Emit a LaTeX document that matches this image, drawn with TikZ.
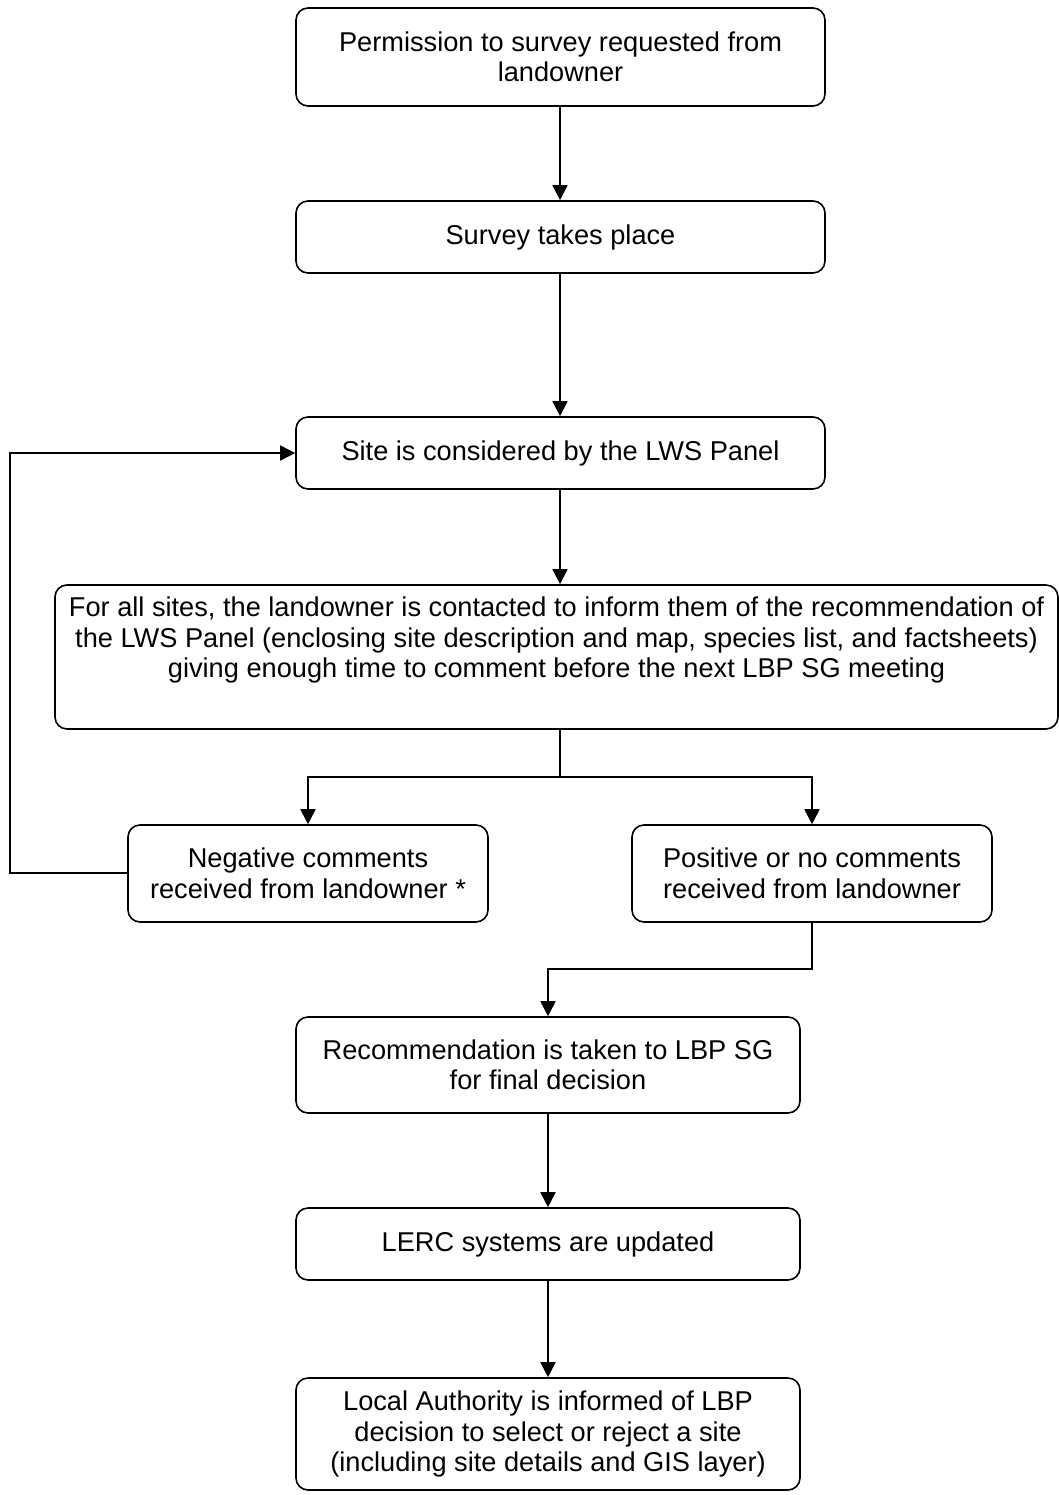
\documentclass[tikz,border=0pt]{standalone}
\usepackage{fontspec}
\setmainfont{Liberation Sans}
\usetikzlibrary{arrows.meta}
\begin{document}
\begin{tikzpicture}[x=1pt,y=-1pt,
  box/.style={draw=black, line width=1.6pt, rounded corners=12pt, align=center,
    inner sep=0pt, font=\fontsize{27.2}{30.5}\selectfont},
  conn/.style={draw=black, line width=1.6pt},
  arr/.style={conn, -{Triangle[length=15pt,width=15pt]}}]
\fill[white] (0,0) rectangle (1059,1495);
\useasboundingbox (0,0) rectangle (1059,1495);

\node[box, minimum width=529pt, minimum height=98pt] (b1) at (560.5,57)
  {Permission to survey requested from\\landowner};
\node[box, minimum width=529pt, minimum height=72pt] (b2) at (560.5,237)
  {Survey takes place};
\node[box, minimum width=529pt, minimum height=72pt] (b3) at (560.5,453)
  {Site is considered by the LWS Panel};
\node[box, minimum width=1003pt, minimum height=144pt] (b4) at (556.5,657)
  {For all sites, the landowner is contacted to inform them of the recommendation of\\
   the LWS Panel (enclosing site description and map, species list, and factsheets)\\
   giving enough time to comment before the next LBP SG meeting\\\strut};
\node[box, minimum width=360pt, minimum height=97pt] (neg) at (308,873.5)
  {Negative comments\\received from landowner *};
\node[box, minimum width=360pt, minimum height=97pt] (pos) at (812,873.5)
  {Positive or no comments\\received from landowner};
\node[box, minimum width=504pt, minimum height=96pt] (rec) at (548,1065)
  {Recommendation is taken to LBP SG\\for final decision};
\node[box, minimum width=504pt, minimum height=72pt] (lerc) at (548,1244)
  {LERC systems are updated};
\node[box, minimum width=504pt, minimum height=112pt] (la) at (548,1434)
  {Local Authority is informed of LBP\\decision to select or reject a site\\(including site details and GIS layer)};

\coordinate (br) at (560,777);
\coordinate (loopL) at (10,873);
\coordinate (loopT) at (10,453);
\coordinate (pj) at (812,969);

\draw[arr] (b1.south -| 560,0) -- (b2.north -| 560,0);
\draw[arr] (b2.south -| 560,0) -- (b3.north -| 560,0);
\draw[arr] (b3.south -| 560,0) -- (b4.north -| 560,0);
\draw[conn] (b4.south -| br) -- (br);
\draw[arr] (br) -| (neg.north);
\draw[arr] (br) -| (pos.north);
\draw[arr] (neg.west |- loopL) -- (loopL) -- (loopT) -- (b3.west);
\draw[arr] (pos.south) -- (pj) -| (rec.north);
\draw[arr] (rec.south) -- (lerc.north);
\draw[arr] (lerc.south) -- (la.north);
\end{tikzpicture}
\end{document}
